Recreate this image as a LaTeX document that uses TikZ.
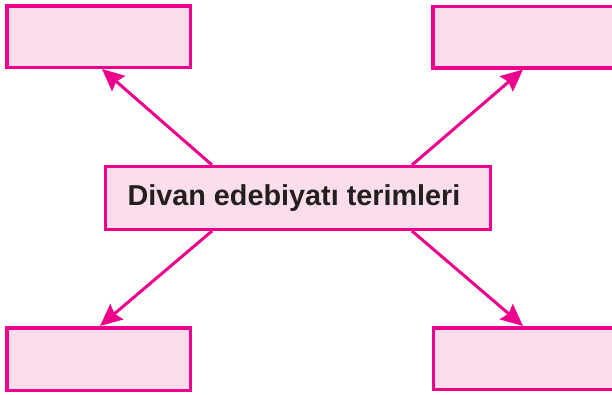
\documentclass[tikz,border=0pt]{standalone}
\usepackage{fontspec}
\setmainfont{Liberation Sans}
\usetikzlibrary{arrows.meta}
\definecolor{magenta}{HTML}{EC008C}
\definecolor{rosefill}{HTML}{FCDDEB}
\definecolor{inkblack}{HTML}{231F20}

\begin{document}
\begin{tikzpicture}[
		every node/.style={rectangle, draw=magenta, fill=rosefill, line width=3.5pt, inner sep=0pt},
		termbox/.style={minimum width=183.5pt, minimum height=61.5pt},
		pointer/.style={draw=magenta, line width=3pt, -{Stealth[length=22pt, width=20pt, inset=3pt]}}
	]
  \useasboundingbox (0pt, 0pt) rectangle (612pt, -394pt);
  \node (tl) [termbox] at (98.5pt, -36.5pt) {};
  \node (tr) [termbox] at (524.5pt, -37pt) {};
  \node (bl) [termbox, minimum height=62.5pt] at (98.5pt, -359pt) {};
  \node (br) [termbox] at (525pt, -358.5pt) {};
  \node (centre) [line width=3pt, minimum width=385pt, minimum height=63pt,
    font=\bfseries\fontsize{28.8}{34}\selectfont, text=inkblack] at (298pt, -198pt)
    {Divan edebiyatı terimleri\hspace*{8pt}};
  \draw [pointer] ([xshift=-86pt]centre.north) -- ([xshift=3.5pt]tl.south);
  \draw [pointer] ([xshift=114pt]centre.north) -- ([xshift=-1.5pt]tr.south);
  \draw [pointer] ([xshift=-86pt]centre.south) -- ([xshift=1.5pt]bl.north);
  \draw [pointer] ([xshift=114pt]centre.south) -- ([xshift=-2pt]br.north);
\end{tikzpicture}
\end{document}
